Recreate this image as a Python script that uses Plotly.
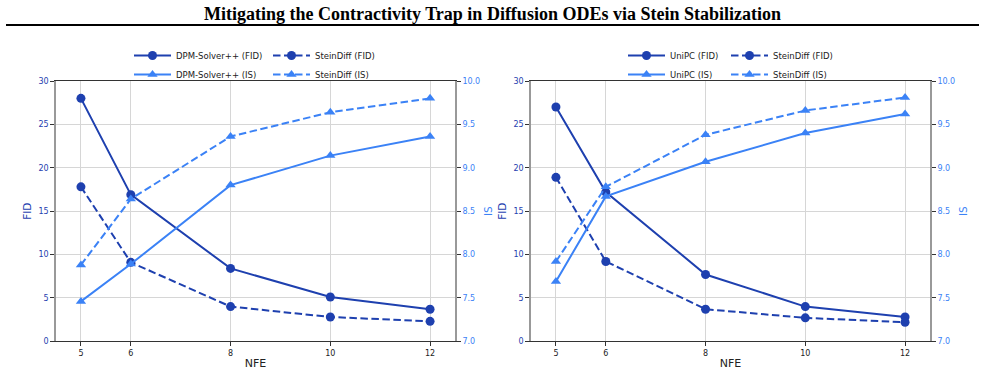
import plotly.graph_objects as go

nfe = [5, 6, 8, 10, 12]
x_ticks = [5, 6, 8, 10, 12]
fid_ticks = [0, 5, 10, 15, 20, 25, 30]
is_ticks = [7.0, 7.5, 8.0, 8.5, 9.0, 9.5, 10.0]
is_tick_text = ["7.0", "7.5", "8.0", "8.5", "9.0", "9.5", "10.0"]

# Left panel: DPM-Solver++ vs SteinDiff
dpm_fid = [28.0, 16.9, 8.4, 5.1, 3.7]
stein_fid_a = [17.8, 9.1, 4.0, 2.8, 2.3]
dpm_is = [7.46, 7.89, 8.80, 9.14, 9.36]
stein_is_a = [7.88, 8.64, 9.36, 9.64, 9.80]

# Right panel: UniPC vs SteinDiff
unipc_fid = [27.0, 17.2, 7.7, 4.0, 2.8]
stein_fid_b = [18.9, 9.2, 3.7, 2.7, 2.2]
unipc_is = [7.69, 8.67, 9.07, 9.40, 9.62]
stein_is_b = [7.92, 8.78, 9.38, 9.66, 9.81]

DARK = "#1E40AF"
LIGHT = "#3B82F6"
FONT = "DejaVu Sans"
W, H = 985, 374
DASH = "7.5px,3.5px"

fig = go.Figure()

def add(x, y, name, color, dash, symbol, xa, ya, legend):
    fig.add_trace(go.Scatter(
        x=x, y=y, name=name, mode="lines+markers",
        line=dict(color=color, width=2, dash=dash),
        marker=dict(symbol=symbol, size=9, color=color),
        xaxis=xa, yaxis=ya, legend=legend))

add(nfe, dpm_fid, "DPM-Solver++ (FID)", DARK, "solid", "circle", "x", "y", "legend")
add(nfe, stein_fid_a, "SteinDiff (FID)", DARK, DASH, "circle", "x", "y", "legend2")
add(nfe, dpm_is, "DPM-Solver++ (IS)", LIGHT, "solid", "triangle-up", "x", "y2", "legend")
add(nfe, stein_is_a, "SteinDiff (IS)", LIGHT, DASH, "triangle-up", "x", "y2", "legend2")

add(nfe, unipc_fid, "UniPC (FID)", DARK, "solid", "circle", "x2", "y3", "legend3")
add(nfe, stein_fid_b, "SteinDiff (FID)", DARK, DASH, "circle", "x2", "y3", "legend4")
add(nfe, unipc_is, "UniPC (IS)", LIGHT, "solid", "triangle-up", "x2", "y4", "legend3")
add(nfe, stein_is_b, "SteinDiff (IS)", LIGHT, DASH, "triangle-up", "x2", "y4", "legend4")

ytop = 1 - 81 / H
ybot = 1 - 341.3 / H
dom_l = [56 / W, 455 / W]
dom_r = [531 / W, 930 / W]

spine = "#333333"
side_spine = "#999999"
grid = "#d6d6d6"

def xaxis(domain, anchor):
    return dict(domain=domain, anchor=anchor, range=[4.5, 12.5],
                tickvals=x_ticks, ticks="outside", ticklen=4, tickcolor=spine,
                showline=True, linecolor=spine, linewidth=1.2, mirror=True,
                showgrid=True, gridcolor=grid, gridwidth=1, zeroline=False,
                tickfont=dict(family=FONT, size=8, color="#222"),
                title=dict(text="NFE", font=dict(family=FONT, size=11, color="#222"), standoff=2))

def yleft(anchor):
    return dict(domain=[ybot, ytop], anchor=anchor, range=[0, 30],
                tickvals=fid_ticks, ticks="outside", ticklen=4, tickcolor=spine,
                showline=True, linecolor=side_spine, linewidth=1.6,
                showgrid=True, gridcolor=grid, gridwidth=1, zeroline=False,
                tickfont=dict(family=FONT, size=8, color=DARK),
                title=dict(text="FID", font=dict(family=FONT, size=10.5, color=DARK), standoff=5))

def yright(anchor, overlay):
    return dict(overlaying=overlay, side="right", anchor=anchor, range=[7.0, 10.0],
                tickvals=is_ticks, ticktext=is_tick_text, ticks="outside", ticklen=4,
                tickcolor=spine, showline=True, linecolor=side_spine, linewidth=1.6,
                showgrid=False, zeroline=False,
                tickfont=dict(family=FONT, size=8, color=LIGHT),
                title=dict(text="IS", font=dict(family=FONT, size=10.5, color=LIGHT), standoff=5))

def legend(xpx):
    return dict(x=xpx / W, xanchor="left", y=1 - 41 / H, yanchor="top",
                orientation="v", bgcolor="rgba(0,0,0,0)", borderwidth=0,
                itemwidth=37, tracegroupgap=0,
                font=dict(family=FONT, size=8.5, color="#222"))

fig.update_layout(
    width=W, height=H,
    margin=dict(l=0, r=0, t=0, b=0, pad=0, autoexpand=False),
    paper_bgcolor="white", plot_bgcolor="white",
    showlegend=True,
    xaxis=xaxis(dom_l, "y"),
    yaxis=yleft("x"),
    yaxis2=yright("x", "y"),
    xaxis2=xaxis(dom_r, "y3"),
    yaxis3=yleft("x2"),
    yaxis4=yright("x2", "y3"),
    legend=legend(129),
    legend2=legend(268),
    legend3=legend(623),
    legend4=legend(726),
    title=dict(text="<b>Mitigating the Contractivity Trap in Diffusion ODEs via Stein Stabilization</b>",
               x=0.5, xanchor="center", y=1 - 14 / H, yanchor="middle",
               font=dict(family="Liberation Serif", size=18, color="black")),
    shapes=[dict(type="line", xref="paper", yref="paper",
                 x0=6 / W, x1=979 / W, y0=1 - 25 / H, y1=1 - 25 / H,
                 line=dict(color="black", width=2))],
)

fig.write_html("out.html")
